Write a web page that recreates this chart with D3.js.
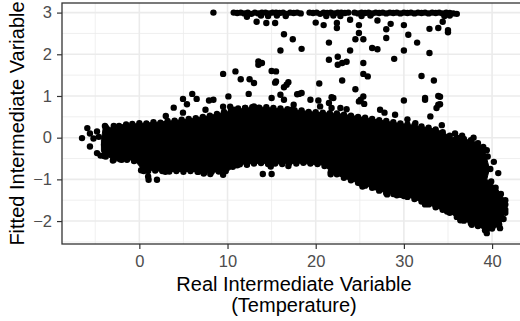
<!DOCTYPE html>
<html>
<head>
<meta charset="utf-8">
<script src="https://cdn.jsdelivr.net/npm/d3@7"></script>
<style>
  body { margin: 0; background: #fff; }
  svg { display: block; font-family: "Liberation Sans", Arial, Helvetica, sans-serif; }
</style>
</head>
<body>
<svg id="chart" width="520" height="321"></svg>
<script>
// axis ticks
const xTicks = [0, 10, 20, 30, 40];
const yTicks = [-2, -1, 0, 1, 2, 3];
const xMinor = [-5, 5, 15, 25, 35];
const yMinor = [-2.5, -1.5, -0.5, 0.5, 1.5, 2.5];

// outline of the dense core where points overlap into a solid mass
const coreX = [-4.3, -4.1, -3.4, -3.1, -2.5, -2.0, 0, 2, 4, 6, 8, 10, 12, 14, 17, 20, 22.5, 25, 27, 29, 31, 33, 34, 35.5, 37, 38, 39, 39.3, 39.7, 39.4, 40.5, 41.3, 41.4, 41.0, 40.5, 39.5, 38.5, 37.5, 36.4, 35, 34, 32.4, 30, 28, 25, 23, 21.7, 21, 18, 16, 14, 12, 11, 10, 8, 6, 4, 2.5, 1.5, 0.5, -0.5, -2, -3, -3.6, -4.3];
const coreY = [-0.05, 0.23, 0.26, 0.15, 0.25, 0.31, 0.34, 0.37, 0.41, 0.46, 0.53, 0.63, 0.71, 0.73, 0.68, 0.61, 0.58, 0.5, 0.43, 0.36, 0.3, 0.23, 0.17, 0.01, -0.04, -0.09, -0.22, -0.42, -0.75, -1.0, -1.2, -1.45, -1.8, -2.05, -2.15, -2.26, -2.13, -2.05, -1.96, -1.78, -1.71, -1.57, -1.38, -1.33, -1.1, -0.95, -0.83, -0.66, -0.61, -0.63, -0.61, -0.63, -0.65, -0.81, -0.83, -0.81, -0.81, -0.81, -0.78, -0.81, -0.55, -0.51, -0.55, -0.43, -0.33];

// points sitting on the rim of the core
const edgeX = [
  -3.8, -3.0, -2.3, -1.5, -0.8, 0.0, 0.8, 1.6, 2.4, 3.2, 4.0, 4.8, 5.6, 6.4, 7.2, 8.0, 8.8, 9.6, 10.4, 11.2, 12.0, 12.8, 13.6, 14.4, 15.2, 16.0, 16.8, 17.6, 18.4, 19.2, 20.0, 20.8, 21.6, 22.4, 23.2, 24.0, 24.8, 25.6, 26.4, 27.2, 28.0, 28.8, 29.6, 30.4, 31.2, 32.0, 32.8, 33.6, 34.4, 35.2, 36.0, 36.8, 37.6, 38.4, 39.0,
  -3.8, -3.0, -2.2, -1.4, -0.6, 0.2, 1.0, 1.8, 2.6, 3.4, 4.2, 5.0, 5.8, 6.6, 7.4, 8.2, 9.0, 9.8, 10.6, 11.4, 12.2, 13.0, 13.8, 14.6, 15.4, 16.2, 17.0, 17.8, 18.6, 19.4, 20.2, 21.0, 21.7, 22.4, 23.2, 24.0, 24.8, 25.6, 26.4, 27.2, 28.0, 28.8, 29.6, 30.4, 31.2, 32.0, 32.8, 33.6, 34.4, 35.2, 36.0, 36.8, 37.6, 38.4, 39.2, 40.0, 40.8,
  41.3, 41.5, 41.5, 41.0, 40.4, 39.9, 39.8, 39.5
];
const edgeY = [
  0.25, 0.2, 0.28, 0.32, 0.33, 0.35, 0.34, 0.37, 0.36, 0.4, 0.41, 0.43, 0.45, 0.47, 0.5, 0.53, 0.57, 0.62, 0.65, 0.7, 0.71, 0.73, 0.72, 0.73, 0.71, 0.7, 0.68, 0.66, 0.65, 0.62, 0.61, 0.6, 0.59, 0.58, 0.55, 0.53, 0.5, 0.48, 0.45, 0.42, 0.4, 0.37, 0.34, 0.32, 0.3, 0.27, 0.24, 0.2, 0.13, 0.05, 0.0, -0.03, -0.06, -0.13, -0.22,
  -0.45, -0.55, -0.52, -0.53, -0.56, -0.78, -0.8, -0.79, -0.8, -0.81, -0.8, -0.82, -0.8, -0.82, -0.83, -0.82, -0.81, -0.8, -0.7, -0.64, -0.63, -0.62, -0.61, -0.63, -0.62, -0.63, -0.61, -0.62, -0.6, -0.62, -0.63, -0.68, -0.83, -0.88, -0.96, -1.02, -1.08, -1.15, -1.2, -1.27, -1.33, -1.35, -1.37, -1.42, -1.47, -1.53, -1.6, -1.67, -1.73, -1.8, -1.9, -1.99, -2.05, -2.12, -2.22, -2.18, -2.08,
  -1.95, -1.8, -1.6, -1.35, -1.2, -1.05, -0.75, -0.45
];

// points piled at the upper limit
const capX = [8.4, 10.7, 11.1, 11.5, 11.9, 12.2, 12.3, 12.7, 13.1, 13.3, 13.5, 13.8, 13.9, 14.3, 14.6, 14.7, 15.1, 15.5, 15.6, 15.9, 16.3, 16.6, 16.7, 17.1, 17.5, 17.9, 18.3, 19.3, 19.7, 20.1, 20.5, 20.9, 21.2, 21.3, 21.7, 22.0, 22.1, 22.5, 22.8, 22.9, 23.3, 23.7, 24.4, 24.8, 25.2, 25.2, 25.6, 26.0, 26.2, 26.4, 26.8, 27.2, 27.6, 28.0, 28.4, 28.8, 29.2, 29.6, 30.0, 30.4, 30.8, 31.2, 31.6, 32.0, 32.4, 32.8, 33.2, 33.6, 34.0, 34.4, 34.6, 34.8, 35.2, 35.2, 35.6, 36.0];
const capY = [3.0, 3.0, 2.99, 3.0, 2.98, 2.9, 3.0, 2.97, 3.0, 2.78, 2.98, 2.93, 3.0, 3.0, 2.92, 2.98, 3.0, 3.0, 2.93, 2.99, 3.0, 2.92, 2.97, 3.0, 2.99, 3.0, 2.98, 3.0, 2.99, 3.0, 2.97, 3.0, 2.92, 2.99, 3.0, 2.93, 2.98, 3.0, 2.92, 3.0, 2.99, 3.0, 3.0, 2.98, 3.0, 2.92, 2.99, 3.0, 2.93, 2.98, 3.0, 2.99, 3.0, 2.98, 3.0, 2.99, 3.0, 2.98, 3.0, 2.99, 3.0, 2.98, 3.0, 2.99, 3.0, 2.98, 3.0, 2.99, 3.0, 2.98, 2.92, 3.0, 2.99, 2.93, 2.98, 2.97];

// scattered points around the core
const ptX = [
  -6.5, -5.9, -5.6, -4.8, -5.6, -4.8, -4.0, -3.9, -4.4, -4.0, -3.9, -2.9, -3.3, -2.9, -2.0, -5.2, -4.6,
  0.5, 1.0, 1.05, 2.0, 2.95, 6.7, 7.3, 8.05, 9.5, 11.1, 12.2, 13.0, 13.9, 14.0, 15.0, 14.9, 16.9, 21.7, 23.9, 25.1, 25.3, 26.8, 28.1, 29.2, 30.0, 31.1, 32.4, 34.9, 36.4, 37.7, 38.4, 39.4, 40.9, 41.5, 41.5, 40.7, 40.2, 39.4,
  37.9, 36.6, 35.8,
  3.0, 3.9, 4.95, 4.95, 5.4, 6.0, 6.5, 7.5, 7.9, 8.4, 9.5, 9.5, 10.1, 10.3, 10.7, 10.9, 11.5, 12.0, 12.4, 12.5, 13.0, 13.0, 13.5, 13.5, 13.5, 13.9, 15.0, 15.5, 15.0, 15.4, 15.5, 16.4, 16.7, 16.9, 16.0, 16.4, 17.3, 17.5, 17.9, 18.1, 18.4, 19.4, 20.3, 20.4, 20.5, 21.5, 21.8, 21.8, 22.0, 22.8, 23.0, 23.5, 24.5, 24.9, 25.1, 25.4, 25.5, 27.3, 27.8, 29.0, 30.0, 30.4, 31.3, 32.4, 32.4, 33.0, 33.7, 33.9, 33.9, 32.0, 33.4, 34.1, 34.1, 34.3,
  14.4, 15.4, 16.4, 17.4, 16.0, 18.4, 20.0, 20.9, 22.4, 22.4, 21.5, 21.5, 22.5, 22.5, 23.0, 23.5, 23.9, 24.9, 24.9, 24.5, 25.4, 23.9, 25.4, 25.4, 25.9, 27.0, 26.4, 27.0, 28.0, 28.0, 28.5, 30.0, 30.5, 31.5, 30.0, 28.9, 32.9, 33.9, 34.4, 35.0, 35.0, 32.9
];
const ptY = [
  -0.01, 0.23, 0.1, 0.15, -0.21, -0.37, -0.17, -0.37, -0.43, -0.44, 0.28, 0.28, 0.05, -0.53, -0.53, -0.02, 0.02,
  -0.8, -0.93, -1.01, -1.01, -0.82, -0.82, -0.86, -0.87, -0.89, -0.66, -0.65, -0.55, -0.57, -0.87, -0.87, -0.69, -0.68, -0.88, -0.95, -1.1, -1.17, -1.19, -1.36, -1.38, -1.4, -1.3, -1.6, -1.77, -1.98, -2.09, -2.1, -2.29, -2.17, -1.5, -1.73, -0.85, -0.58, -0.3,
  0.0, 0.05, 0.1,
  0.52, 0.72, 0.6, 0.93, 0.8, 1.05, 0.93, 0.67, 0.89, 0.91, 0.74, 1.53, 0.99, 0.74, 0.67, 1.59, 1.4, 0.71, 1.05, 1.4, 1.31, 0.75, 0.71, 1.83, 1.75, 1.79, 1.6, 1.59, 0.95, 1.32, 1.35, 1.21, 1.27, 1.33, 1.03, 0.91, 0.67, 0.79, 1.04, 1.05, 1.07, 0.91, 0.89, 1.3, 0.75, 0.83, 0.71, 0.97, 0.95, 0.71, 1.37, 0.68, 1.16, 0.87, 0.91, 0.99, 0.81, 0.67, 0.6, 0.55, 0.89, 0.44, 0.35, 0.91, 0.95, 0.51, 0.71, 0.79, 1.0, 1.48, 1.37, 0.98, 0.8, 0.3,
  2.75, 2.75, 2.48, 2.36, 2.09, 2.13, 2.76, 2.7, 2.75, 2.63, 2.28, 1.87, 1.94, 1.75, 1.79, 1.82, 2.83, 2.7, 2.51, 2.36, 2.36, 2.09, 1.79, 1.53, 1.47, 2.81, 2.15, 2.12, 2.6, 2.39, 2.73, 2.7, 2.47, 2.28, 2.09, 1.89, 2.61, 2.63, 2.78, 2.58, 2.53, 2.03
];

const svg = d3.select('#chart');

const x = d3.scaleLinear().domain([-8.77, 44.3]).range([62, 530]);
const y = d3.scaleLinear().domain([-2.55, 3.23]).range([244, 3]);

const panel = { left: 62, top: 3, right: 530, bottom: 244 };

svg.append('clipPath').attr('id', 'clip')
  .append('rect')
  .attr('x', panel.left).attr('y', panel.top)
  .attr('width', panel.right - panel.left).attr('height', panel.bottom - panel.top);

// grid lines
const grid = svg.append('g');
grid.selectAll('.xminor').data(xMinor).enter().append('line')
  .attr('x1', d => x(d)).attr('x2', d => x(d))
  .attr('y1', panel.top).attr('y2', panel.bottom)
  .attr('stroke', '#ebebeb').attr('stroke-width', 0.8);
grid.selectAll('.yminor').data(yMinor).enter().append('line')
  .attr('y1', d => y(d)).attr('y2', d => y(d))
  .attr('x1', panel.left).attr('x2', panel.right)
  .attr('stroke', '#ebebeb').attr('stroke-width', 0.8);
grid.selectAll('.xmajor').data(xTicks).enter().append('line')
  .attr('x1', d => x(d)).attr('x2', d => x(d))
  .attr('y1', panel.top).attr('y2', panel.bottom)
  .attr('stroke', '#ebebeb').attr('stroke-width', 1.6);
grid.selectAll('.ymajor').data(yTicks).enter().append('line')
  .attr('y1', d => y(d)).attr('y2', d => y(d))
  .attr('x1', panel.left).attr('x2', panel.right)
  .attr('stroke', '#ebebeb').attr('stroke-width', 1.6);

const plot = svg.append('g').attr('clip-path', 'url(#clip)');

// solid core
const coreLine = d3.line()
  .x(i => x(coreX[i]))
  .y(i => y(coreY[i]))
  .curve(d3.curveLinearClosed);
plot.append('path')
  .attr('d', coreLine(d3.range(coreX.length)))
  .attr('fill', '#000')
  .attr('stroke', '#000')
  .attr('stroke-width', 1);

const r = 3.2;
function dots(xs, ys, cls) {
  plot.selectAll('.' + cls).data(d3.range(xs.length)).enter().append('circle')
    .attr('class', cls)
    .attr('cx', i => x(xs[i])).attr('cy', i => y(ys[i])).attr('r', r)
    .attr('fill', '#000');
}
dots(edgeX, edgeY, 'edge');
dots(ptX, ptY, 'pt');
dots(capX, capY, 'cap');

// panel border
svg.append('rect')
  .attr('x', panel.left).attr('y', panel.top)
  .attr('width', panel.right - panel.left).attr('height', panel.bottom - panel.top)
  .attr('fill', 'none').attr('stroke', '#333').attr('stroke-width', 1.3);

// axes
const xAxis = svg.append('g')
  .attr('transform', `translate(0,${panel.bottom})`)
  .call(d3.axisBottom(x).tickValues(xTicks).tickSize(5).tickPadding(6).tickFormat(d3.format('')));
const yAxis = svg.append('g')
  .attr('transform', `translate(${panel.left},0)`)
  .call(d3.axisLeft(y).tickValues(yTicks).tickSize(5).tickPadding(5).tickFormat(d3.format('')));

[xAxis, yAxis].forEach(g => {
  g.select('.domain').remove();
  g.attr('font-family', null).attr('font-size', null);
  g.selectAll('.tick line').attr('stroke', '#333').attr('stroke-width', 1.2);
  g.selectAll('.tick text').attr('fill', '#4d4d4d').style('font-size', '16.5px');
});

// axis titles
const xTitle = svg.append('text')
  .attr('text-anchor', 'middle')
  .style('font-size', '20px').attr('fill', '#000');
xTitle.append('tspan').attr('x', 294).attr('y', 291).text('Real Intermediate Variable');
xTitle.append('tspan').attr('x', 294).attr('y', 312).text('(Temperature)');

svg.append('text')
  .attr('transform', `translate(23.5,${(panel.top + panel.bottom) / 2}) rotate(-90)`)
  .attr('text-anchor', 'middle')
  .style('font-size', '20px').attr('fill', '#000')
  .text('Fitted Intermediate Variable');
</script>
</body>
</html>
